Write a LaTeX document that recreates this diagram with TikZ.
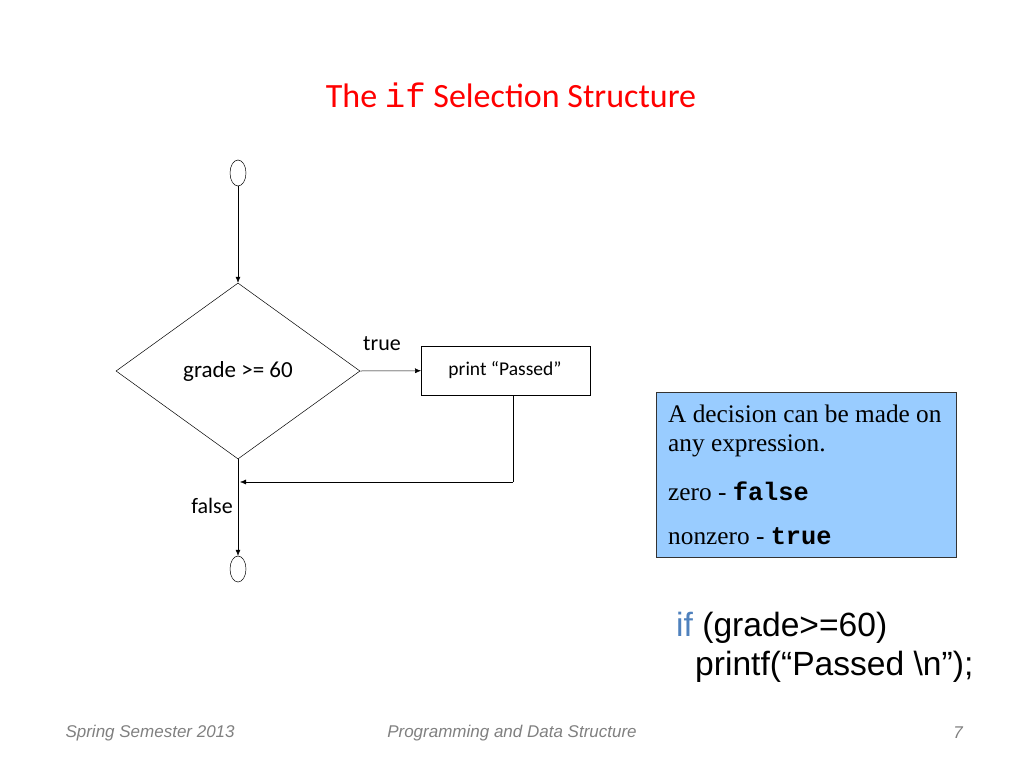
\documentclass[tikz,border=0pt]{standalone}
\usepackage{fontspec}
\setmainfont{Carlito}
\newfontfamily\tms{Liberation Serif}
\newfontfamily\cour{Liberation Mono}
\newfontfamily\arial{Liberation Sans}
\usetikzlibrary{shapes.geometric,arrows.meta}
\definecolor{boxblue}{HTML}{99CCFF}
\definecolor{ifblue}{HTML}{4F81BD}
\tikzset{
 term/.style={draw,ellipse,minimum width=16pt,minimum height=26pt,inner sep=0pt,line width=0.5pt},
 arr/.style={-{Latex[length=6pt,width=5pt]},line width=0.5pt},
 foot/.style={font=\arial\itshape\fontsize{17}{20}\selectfont,text=gray},
}
\begin{document}
\begin{tikzpicture}[x=1pt,y=-1pt]
\useasboundingbox (0,0) rectangle (1024,768);
\node[text=red,font=\fontsize{34}{38}\selectfont] (title) at (511,95) {The {\cour if} Selection Structure};
\node[term] (start) at (238,173) {};
\node[draw,diamond,minimum width=244pt,minimum height=176pt,inner sep=0pt,line width=0.5pt,aspect=1.386] (dec) at (238,371) {};
\node[font=\fontsize{23}{26}\selectfont] (lab) at (238,371) {grade >= 60};
\node[draw,minimum width=169pt,minimum height=49pt,inner sep=0pt,anchor=north west,line width=0.5pt] (act) at (421,346) {};
\node[font=\fontsize{19.5}{22}\selectfont] at (505,370) {print “Passed”};
\node[font=\fontsize{22}{26}\selectfont] (tr) at (382,344) {true};
\node[font=\fontsize{22}{26}\selectfont] (fa) at (212,506) {false};
\node[term] (stop) at (238,569) {};
\coordinate (c1) at (513,482);
\coordinate (c2) at (238,482);
\draw[arr] (start) -- (dec.north);
\draw[arr] (dec.east) -- (act.west);
\draw[line width=0.5pt] (act.south -| c1) -- (c1);
\draw[arr] (c1) -- ([xshift=2pt]c2);
\draw[arr] (dec.south) -- (stop);
\node[draw=black!80,fill=boxblue,minimum width=300pt,minimum height=165pt,anchor=north west,inner sep=0pt] (note) at (656,392) {};
\begin{scope}[every node/.style={anchor=west,font=\tms\fontsize{25.3}{30}\selectfont,inner sep=0pt}]
\node at (668,414) {A decision can be made on};
\node at (668,446) {any expression.};
\node at (668,491) {zero - {\cour\bfseries false}};
\node at (668,536) {nonzero - {\cour\bfseries true}};
\end{scope}
\begin{scope}[every node/.style={anchor=west,font=\arial\fontsize{33.6}{38}\selectfont,inner sep=0pt}]
\node at (676,628) {\textcolor{ifblue}{if} (grade>=60)};
\node at (695,667) {printf(“Passed \textbackslash n”);};
\end{scope}
\node[foot,anchor=west] at (62,733) {Spring Semester 2013};
\node[foot] at (512,733) {Programming and Data Structure};
\node[foot] at (958,733) {7};
\end{tikzpicture}
\end{document}
